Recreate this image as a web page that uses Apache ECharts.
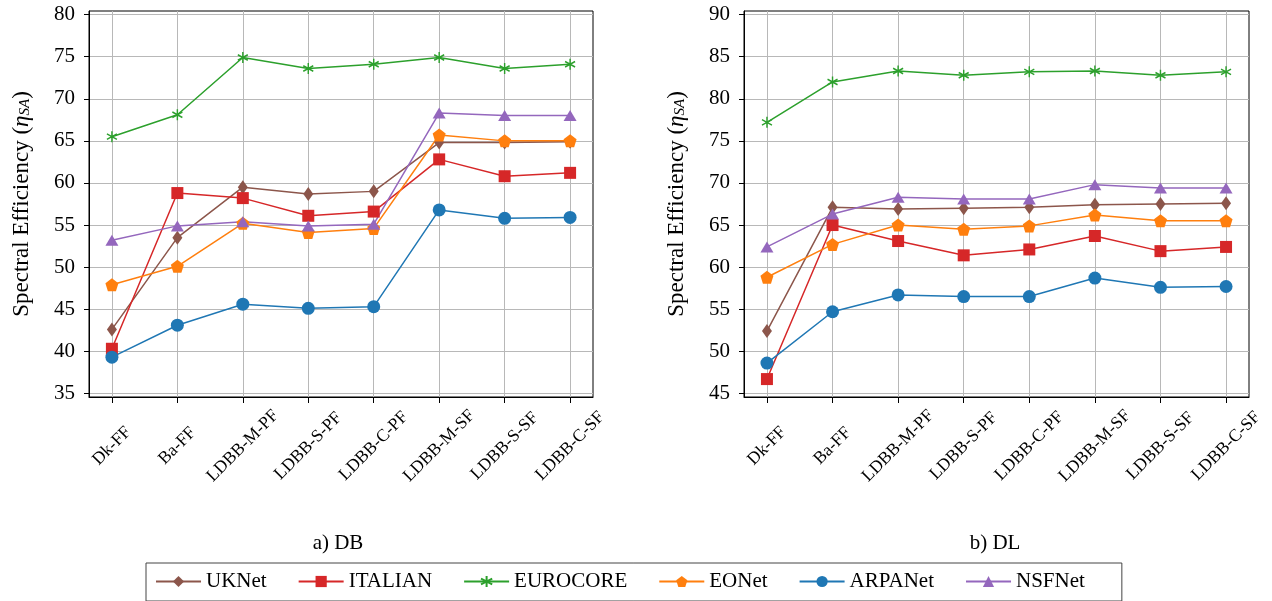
<!DOCTYPE html>
<html><head><meta charset="utf-8">
<script src="https://cdn.jsdelivr.net/npm/echarts@6/dist/echarts.min.js"></script>
<style>html,body{margin:0;padding:0;background:#fff}#c{width:1272px;height:601px}</style>
</head><body><div id="c"></div>
<script>
const categories = ['Dk-FF','Ba-FF','LDBB-M-PF','LDBB-S-PF','LDBB-C-PF','LDBB-M-SF','LDBB-S-SF','LDBB-C-SF'];
const seriesNames = ['UKNet','ITALIAN','EUROCORE','EONet','ARPANet','NSFNet'];

// a) DB
const dbUKNet    = [42.6, 53.5, 59.5, 58.7, 59.0, 64.8, 64.8, 64.9];
const dbITALIAN  = [40.3, 58.8, 58.2, 56.1, 56.6, 62.8, 60.8, 61.2];
const dbEUROCORE = [65.5, 68.1, 74.9, 73.6, 74.1, 74.9, 73.6, 74.1];
const dbEONet    = [47.9, 50.1, 55.2, 54.1, 54.6, 65.7, 65.0, 65.0];
const dbARPANet  = [39.3, 43.1, 45.6, 45.1, 45.3, 56.8, 55.8, 55.9];
const dbNSFNet   = [53.2, 54.9, 55.4, 54.9, 55.1, 68.3, 68.0, 68.0];

// b) DL
const dlUKNet    = [52.4, 67.1, 66.9, 67.0, 67.1, 67.4, 67.5, 67.6];
const dlITALIAN  = [46.7, 65.0, 63.1, 61.4, 62.1, 63.7, 61.9, 62.4];
const dlEUROCORE = [77.2, 82.0, 83.3, 82.8, 83.2, 83.3, 82.8, 83.2];
const dlEONet    = [58.8, 62.7, 65.0, 64.5, 64.9, 66.2, 65.5, 65.5];
const dlARPANet  = [48.6, 54.7, 56.7, 56.5, 56.5, 58.7, 57.6, 57.7];
const dlNSFNet   = [62.4, 66.3, 68.3, 68.1, 68.1, 69.8, 69.4, 69.4];

const yTicksDB = [35, 40, 45, 50, 55, 60, 65, 70, 75, 80];
const yTicksDL = [45, 50, 55, 60, 65, 70, 75, 80, 85, 90];
const xTicks = [0, 1, 2, 3, 4, 5, 6, 7];

const FONT = '"Liberation Serif", "DejaVu Serif", serif';
const colors = {UKNet:'#8c564b', ITALIAN:'#d62728', EUROCORE:'#2ca02c', EONet:'#ff7f0e', ARPANet:'#1f77b4', NSFNet:'#9467bd'};
const ASTER = 'path://M0,-1L0,1M-0.866,-0.5L0.866,0.5M-0.866,0.5L0.866,-0.5';
const PENTA = 'path://M0,-1L0.951,-0.309L0.588,0.809L-0.588,0.809L-0.951,-0.309Z';
const markers = {
  UKNet:   {symbol:'diamond', size:[10,14]},
  ITALIAN: {symbol:'rect', size:12},
  EUROCORE:{symbol:ASTER, size:[10,11]},
  EONet:   {symbol:PENTA, size:13},
  ARPANet: {symbol:'circle', size:13},
  NSFNet:  {symbol:'triangle', size:[13,11]}
};

const dbData = {UKNet:dbUKNet, ITALIAN:dbITALIAN, EUROCORE:dbEUROCORE, EONet:dbEONet, ARPANet:dbARPANet, NSFNet:dbNSFNet};
const dlData = {UKNet:dlUKNet, ITALIAN:dlITALIAN, EUROCORE:dlEUROCORE, EONet:dlEONet, ARPANet:dlARPANet, NSFNet:dlNSFNet};

function mkSeries(name, vals, idx) {
  const m = markers[name];
  const c = colors[name];
  const isAst = name === 'EUROCORE';
  return {
    type:'line', name, xAxisIndex:idx, yAxisIndex:idx,
    data: vals.map((v,i)=>[i, v]),
    symbol:m.symbol, symbolSize:m.size, showAllSymbol:true,
    lineStyle:{color:c, width:1.5},
    itemStyle:{color:c, borderColor:c, borderWidth: isAst ? 1.5 : 0, opacity:1},
    emphasis:{disabled:true}, animation:false, z: 2
  };
}
const series = [];
seriesNames.forEach(n => series.push(mkSeries(n, dbData[n], 0)));
seriesNames.forEach(n => series.push(mkSeries(n, dlData[n], 1)));

function xAxisCfg(gi) {
  return {
    type:'value', gridIndex:gi, min:-0.35, max:7.35,
    axisLine:{show:true, onZero:false, lineStyle:{color:'#000', width:1}},
    axisTick:{show:true, customValues:xTicks, length:6, lineStyle:{color:'#000'}},
    axisLabel:{customValues:xTicks, formatter:v=>categories[Math.round(v)] || '', rotate:45, align:'center', verticalAlign:'middle', margin:49, fontFamily:FONT, fontSize:17.5, color:'#000'},
    splitLine:{show:true, lineStyle:{color:'#b8b8b8', width:1}}
  };
}
function yAxisCfg(gi, ticks, mn, mx) {
  return {
    type:'value', gridIndex:gi, min:mn, max:mx,
    name:'Spectral Efficiency ({i|η}{s|SA})', nameLocation:'middle', nameGap:56,
    nameTextStyle:{fontFamily:FONT, fontSize:23, color:'#000',
      rich:{i:{fontFamily:FONT, fontSize:23, fontStyle:'italic', color:'#000'}, s:{fontFamily:FONT, fontSize:15, fontStyle:'italic', color:'#000', verticalAlign:'bottom', padding:[7,0,0,0]}}},
    axisLine:{show:true, onZero:false, lineStyle:{color:'#000', width:1}},
    axisTick:{show:true, customValues:ticks, length:5, lineStyle:{color:'#000'}},
    axisLabel:{customValues:ticks, margin:14, fontFamily:FONT, fontSize:21, color:'#000'},
    splitLine:{show:true, lineStyle:{color:'#b8b8b8', width:1}}
  };
}

const chart = echarts.init(document.getElementById('c'), null, {renderer:'canvas'});
chart.setOption({
  backgroundColor:'#fff',
  animation:false,
  grid:[
    {left:89, right:679, top:11, bottom:204, show:true, borderColor:'#000', borderWidth:1, backgroundColor:'transparent', containLabel:false},
    {left:744, right:23, top:11, bottom:204, show:true, borderColor:'#000', borderWidth:1, backgroundColor:'transparent', containLabel:false}
  ],
  xAxis:[xAxisCfg(0), xAxisCfg(1)],
  yAxis:[yAxisCfg(0, yTicksDB, 34.57, 80.43), yAxisCfg(1, yTicksDL, 44.57, 90.43)],
  legend:{
    data: seriesNames, left:146, top:563, orient:'horizontal',
    itemWidth:45, itemHeight:14, itemGap:31,
    padding:[8,37,9,9], borderColor:'#444', borderWidth:1, borderRadius:0,
    textStyle:{fontFamily:FONT, fontSize:21, color:'#000'},
    selectedMode:false
  },
  graphic:[
    {type:'text', x:338, y:543, style:{text:'a) DB', font:'21px "Liberation Serif"', fill:'#000', textAlign:'center', textVerticalAlign:'middle'}},
    {type:'text', x:995, y:543, style:{text:'b) DL', font:'21px "Liberation Serif"', fill:'#000', textAlign:'center', textVerticalAlign:'middle'}}
  ],
  series
});
</script></body></html>
